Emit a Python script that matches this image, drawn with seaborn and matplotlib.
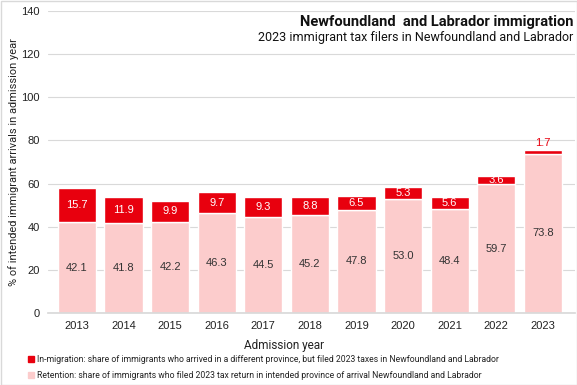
import matplotlib
matplotlib.use("Agg")
import matplotlib.pyplot as plt
import seaborn as sns
import pandas as pd
from matplotlib.patches import Rectangle

years = ["2013", "2014", "2015", "2016", "2017", "2018", "2019", "2020", "2021", "2022", "2023"]
retention = [42.1, 41.8, 42.2, 46.3, 44.5, 45.2, 47.8, 53.0, 48.4, 59.7, 73.8]
inmigration = [15.7, 11.9, 9.9, 9.7, 9.3, 8.8, 6.5, 5.3, 5.6, 3.6, 1.7]

title = "Newfoundland  and Labrador immigration"
subtitle = "2023 immigrant tax filers in Newfoundland and Labrador"
ylabel = "% of intended immigrant arrivals in admission year"
xlabel = "Admission year"
leg_in = "In-migration: share of immigrants who arrived in a different province, but filed 2023 taxes in Newfoundland and Labrador"
leg_ret = "Retention: share of immigrants who filed 2023 tax return in intended province of arrival Newfoundland and Labrador"

RED = "#E8000E"
PINK = "#FCCCCC"
NARROW = ["Roboto", "DejaVu Sans"]

sns.set_theme(style="white")
plt.rcParams["font.family"] = ["Liberation Sans", "DejaVu Sans"]

df = pd.DataFrame({"year": years, "retention": retention, "inmigration": inmigration})

fig = plt.figure(figsize=(5.77, 3.85), dpi=100)
ax = fig.add_axes([48/577, 72/385, 527/577, 302/385])

sns.barplot(data=df, x="year", y="retention", color=PINK, width=0.82, ax=ax, saturation=1)
sns.barplot(data=df, x="year", y="inmigration", bottom=df["retention"], color=RED, width=0.82, ax=ax, saturation=1)

ax.set_ylim(0, 140)
ax.set_xlim(-0.62, 10.69)
ax.set_yticks(range(0, 141, 20))
ax.yaxis.grid(True, color="#D9D9D9", linewidth=0.8)
ax.set_axisbelow(True)
for s in ["top", "right", "left"]:
    ax.spines[s].set_visible(False)
ax.spines["bottom"].set_color("#D9D9D9")
ax.tick_params(axis="both", length=0, labelsize=8, colors="#222222", pad=6)
ax.set_xlabel("")
ax.set_ylabel("")

for i, (r, m) in enumerate(zip(retention, inmigration)):
    ax.text(i, r / 2, f"{r:.1f}", ha="center", va="center", fontsize=8, color="#333333")
    if m >= 3:
        ax.text(i, r + m / 2, f"{m:.1f}", ha="center", va="center", fontsize=8, color="white")
    else:
        ax.text(i, r + m + 1, f"{m:.1f}", ha="center", va="bottom", fontsize=8, color=RED)

fig.text(14/577, 1 - 162/385, ylabel, ha="center", va="center", rotation=90, fontsize=7.9, family=NARROW, color="#222222")
fig.text(573/577, 1 - 22/385, title, ha="right", va="center", fontsize=10.5, fontweight="bold", family=NARROW, color="#111111")
fig.text(573/577, 1 - 38/385, subtitle, ha="right", va="center", fontsize=9, family=NARROW, color="#111111")
fig.text(284/577, 1 - 346/385, xlabel, ha="center", va="center", fontsize=8.5, family=NARROW, color="#222222")

fig.patches.append(Rectangle((28/577, 1 - 362/385), 6/577, 6/385, transform=fig.transFigure, color=RED, figure=fig))
fig.patches.append(Rectangle((28/577, 1 - 378/385), 6/577, 6/385, transform=fig.transFigure, color=PINK, figure=fig))
fig.text(37/577, 1 - 359/385, leg_in, ha="left", va="center", fontsize=6.2, family=NARROW, color="#222222")
fig.text(37/577, 1 - 375/385, leg_ret, ha="left", va="center", fontsize=6.2, family=NARROW, color="#222222")

fig.patches.append(Rectangle((0.5/577, 0.5/385), 576/577, 384/385, transform=fig.transFigure, fill=False, edgecolor="#D9D9D9", linewidth=1, figure=fig))

fig.savefig("out.png", dpi=100)
